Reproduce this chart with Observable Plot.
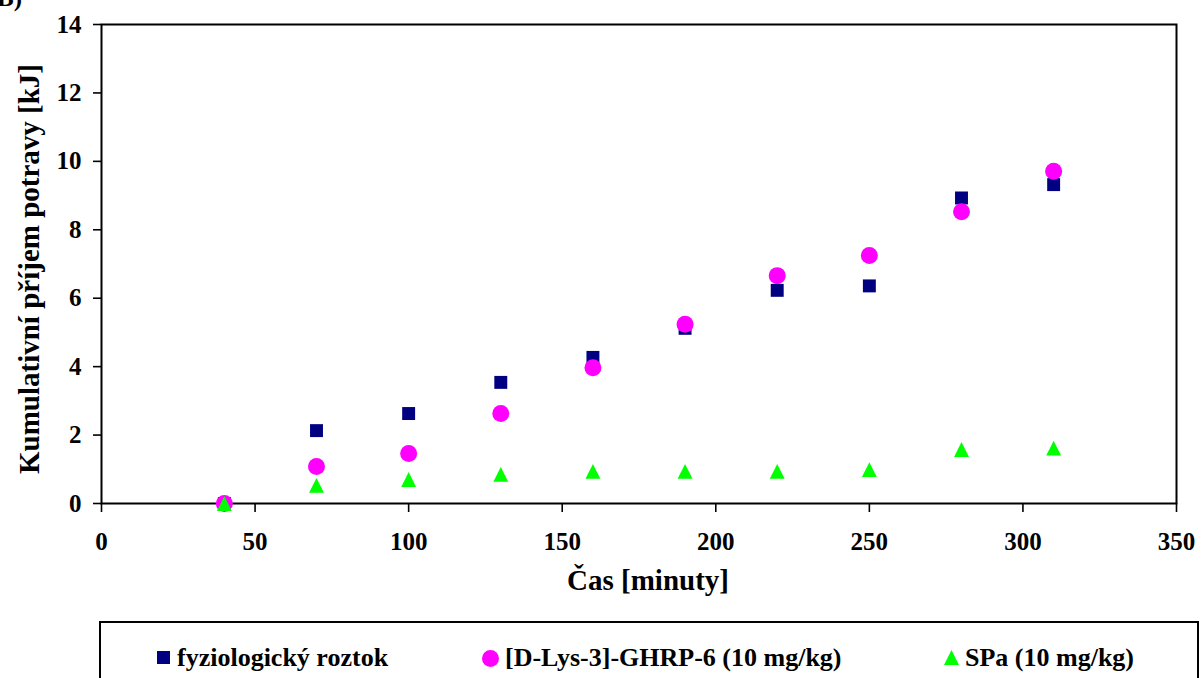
<!DOCTYPE html>
<html>
<head>
<meta charset="utf-8">
<script src="https://cdn.jsdelivr.net/npm/d3@7"></script>
<script src="https://cdn.jsdelivr.net/npm/@observablehq/plot@0.6"></script>
</head>
<body style="margin:0;padding:0;background:#fff">
<div id="wrap" style="position:relative;width:1201px;height:678px;overflow:hidden;background:#fff;font-family:'Liberation Serif';font-weight:bold;color:#000">
  <div id="chart"></div>
  <div id="panel" style="position:absolute;left:-3px;top:-16px;font-family:'Liberation Serif';font-weight:bold;font-size:25px">B)</div>
  <div id="legend" style="position:absolute;left:99px;top:621px;width:1096px;height:90px;border:2px solid #000;background:#fff"></div>
</div>
<script>
// Sampling times (minutes)
const times = [40, 70, 100, 130, 160, 190, 220, 250, 280, 310];

// Cumulative food intake [kJ] per group
const saline = [0, 2.13, 2.63, 3.54, 4.27, 5.12, 6.23, 6.36, 8.93, 9.32];
const ghrp   = [0, 1.08, 1.46, 2.63, 3.97, 5.24, 6.66, 7.25, 8.53, 9.71];
const spa    = [0, 0.53, 0.70, 0.85, 0.94, 0.94, 0.94, 0.99, 1.58, 1.62];

// Series names and colours
const seriesNames = ["fyziologický roztok", "[D-Lys-3]-GHRP-6 (10 mg/kg)", "SPa (10 mg/kg)"];
const seriesColors = ["#000080", "#ff00ff", "#00ff00"];

// Axis ticks and titles
const xTicks = [0, 50, 100, 150, 200, 250, 300, 350];
const yTicks = [0, 2, 4, 6, 8, 10, 12, 14];
const xTitle = "Čas [minuty]";
const yTitle = "Kumulativní příjem potravy [kJ]";

const serif = "'Liberation Serif'";

// Marker shapes centred on their bounding box
const squareSym = { draw(ctx, size) { const s = Math.sqrt(size) / 2; ctx.rect(-s, -s, 2 * s, 2 * s); } };
const triangleSym = { draw(ctx, size) { const h = Math.sqrt(size) / 2;
  ctx.moveTo(0, -h); ctx.lineTo(h, h); ctx.lineTo(-h, h); ctx.closePath(); } };

const rows = (vals) => times.map((t, i) => ({t, v: vals[i]}));

const chart = Plot.plot({
  width: 1201,
  height: 620,
  marginLeft: 101,
  marginRight: 25,
  marginTop: 24,
  marginBottom: 117,
  style: { fontFamily: serif, fontWeight: "bold", fontSize: "25px", background: "#fff", color: "#000" },
  x: { domain: [0, 350] },
  y: { domain: [0, 14] },
  marks: [
    Plot.axisX({ ticks: xTicks, tickSize: 9, tickPadding: 20, strokeWidth: 1.6, fontSize: 25, label: null }),
    Plot.axisY({ ticks: yTicks, tickSize: 8, tickPadding: 12, strokeWidth: 1.6, fontSize: 25, label: null }),
    Plot.frame({ stroke: "#000", strokeWidth: 2 }),
    Plot.dot(rows(saline), { x: "t", y: "v", symbol: squareSym, r: 7.3, fill: seriesColors[0], stroke: "none" }),
    Plot.dot(rows(ghrp),   { x: "t", y: "v", symbol: "circle", r: 8.5, fill: seriesColors[1], stroke: "none" }),
    Plot.dot(rows(spa),    { x: "t", y: "v", symbol: triangleSym, r: 8.4, fill: seriesColors[2], stroke: "none" }),
    Plot.text([xTitle], { frameAnchor: "bottom", dx: 9, dy: 86, fontSize: 29, fontWeight: "bold" }),
    Plot.text([yTitle], { frameAnchor: "left", textAnchor: "middle", rotate: -90, dx: -72, dy: 5, fontSize: 29, fontWeight: "bold" })
  ]
});
document.getElementById("chart").appendChild(chart);

// Legend below the plot
const legend = document.getElementById("legend");
const itemLeft = [55, 381, 843];
const swatch = [
  '<rect x="1" y="1" width="13" height="13" fill="' + seriesColors[0] + '"/>',
  '<circle cx="8.5" cy="8.5" r="8.5" fill="' + seriesColors[1] + '"/>',
  '<path d="M7.5,0 L15,15 L0,15 Z" fill="' + seriesColors[2] + '"/>'
];
const swW = [15, 17, 15];
seriesNames.forEach((name, i) => {
  const d = document.createElement("div");
  d.style.cssText = "position:absolute;top:20px;display:flex;align-items:center;font-size:26px;white-space:nowrap;font-weight:bold;font-family:'Liberation Serif';left:" + itemLeft[i] + "px";
  d.innerHTML = '<svg width="' + swW[i] + '" height="17" viewBox="0 0 ' + swW[i] + ' 17" style="margin-right:6px">' + swatch[i] + '</svg><span>' + name + '</span>';
  legend.appendChild(d);
});
</script>
</body>
</html>
